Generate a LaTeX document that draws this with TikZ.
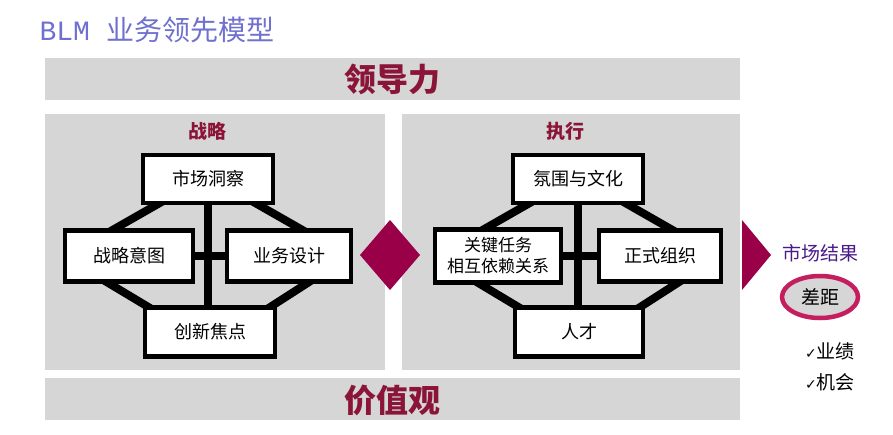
\documentclass[tikz,border=0pt]{standalone}
\usepackage{fontspec}
\usetikzlibrary{shapes.geometric}
\newfontfamily\cjk{Noto Sans CJK SC}
\newfontfamily\dvs{DejaVu Sans}
\newfontfamily\mono{Liberation Mono}
\definecolor{dred}{HTML}{8B1538}
\definecolor{panel}{HTML}{D6D6D6}
\definecolor{wine}{HTML}{990048}
\definecolor{titleblue}{HTML}{7070D0}
\definecolor{purp}{HTML}{4B1A8A}
\definecolor{ring}{HTML}{C41E5E}
\begin{document}
\begin{tikzpicture}[x=1pt,y=-1pt,
  panelbox/.style={fill=panel,draw=none},
  wbox/.style={draw=black,line width=4.5pt,fill=white,font=\cjk\fontsize{18}{21}\selectfont},
  link/.style={line width=8pt,black}]
\useasboundingbox (0,0) rectangle (893,434);
\fill[white] (0,0) rectangle (893,434);
\node[anchor=west,text=titleblue,font=\fontsize{28}{32}\selectfont] (title) at (36,30) {\mono BLM\ \cjk 业务领先模型};
\fill[panelbox] (45,58) rectangle (740,100);
\node[text=dred,font=\cjk\bfseries\fontsize{32}{36}\selectfont] (lead) at (392,79) {领导力};
\fill[panelbox] (45,114) rectangle (385,370);
\fill[panelbox] (402,114) rectangle (740,370);
\fill[panelbox] (45,378) rectangle (740,420);
\node[text=dred,font=\cjk\bfseries\fontsize{32}{36}\selectfont] (val) at (392,400) {价值观};
\node[text=dred,font=\cjk\bfseries\fontsize{19}{21}\selectfont] (zl) at (207,131) {战略};
\node[text=dred,font=\cjk\bfseries\fontsize{19}{21}\selectfont] (zx) at (565,131) {执行};
% left group
\draw[link] (208,180) -- (208,330);
\draw[link] (130,256) -- (290,256);
\draw[link] (165,200) -- (95,240);
\draw[link] (250,200) -- (320,240);
\draw[link] (95,275) -- (170,320);
\draw[link] (320,275) -- (250,320);
\node[wbox,minimum width=130pt,minimum height=48pt] (a1) at (208,179) {市场洞察};
\node[wbox,minimum width=128pt,minimum height=51pt] (a2) at (129,256) {战略意图};
\node[wbox,minimum width=124pt,minimum height=51pt] (a3) at (289,256) {业务设计};
\node[wbox,minimum width=130pt,minimum height=49pt] (a4) at (210,332) {创新焦点};
% right group
\draw[link] (578,180) -- (578,330);
\draw[link] (498,256) -- (660,256);
\draw[link] (535,200) -- (465,240);
\draw[link] (620,200) -- (690,240);
\draw[link] (465,275) -- (540,320);
\draw[link] (690,275) -- (620,320);
\node[wbox,minimum width=130pt,minimum height=48pt] (b1) at (578,179) {氛围与文化};
\node[wbox,minimum width=126pt,minimum height=53pt,align=center,inner sep=1pt,font=\cjk\fontsize{17}{21}\selectfont] (b2) at (498,256) {关键任务\\相互依赖关系};
\node[wbox,minimum width=122pt,minimum height=51pt] (b3) at (660,256) {正式组织};
\node[wbox,minimum width=128pt,minimum height=49pt] (b4) at (579,332) {人才};
% diamond & triangle
\fill[wine] (390,220) -- (420,255) -- (390,290) -- (360,255) -- cycle;
\fill[wine] (742,220) -- (771,255) -- (742,290) -- cycle;
% results
\node[text=purp,font=\cjk\fontsize{19}{21}\selectfont] (res) at (820,253) {市场结果};
\node[draw=ring,line width=4.5pt,fill=panel,ellipse,minimum width=76pt,minimum height=42pt,font=\cjk\fontsize{19}{21}\selectfont,inner sep=0pt] (gap) at (820,297) {差距};
\node[font=\fontsize{19}{21}\selectfont] (r1) at (830,351) {{\dvs\fontsize{14}{16}\selectfont ✓}\cjk 业绩};
\node[font=\fontsize{19}{21}\selectfont] (r2) at (830,382) {{\dvs\fontsize{14}{16}\selectfont ✓}\cjk 机会};
\end{tikzpicture}
\end{document}
